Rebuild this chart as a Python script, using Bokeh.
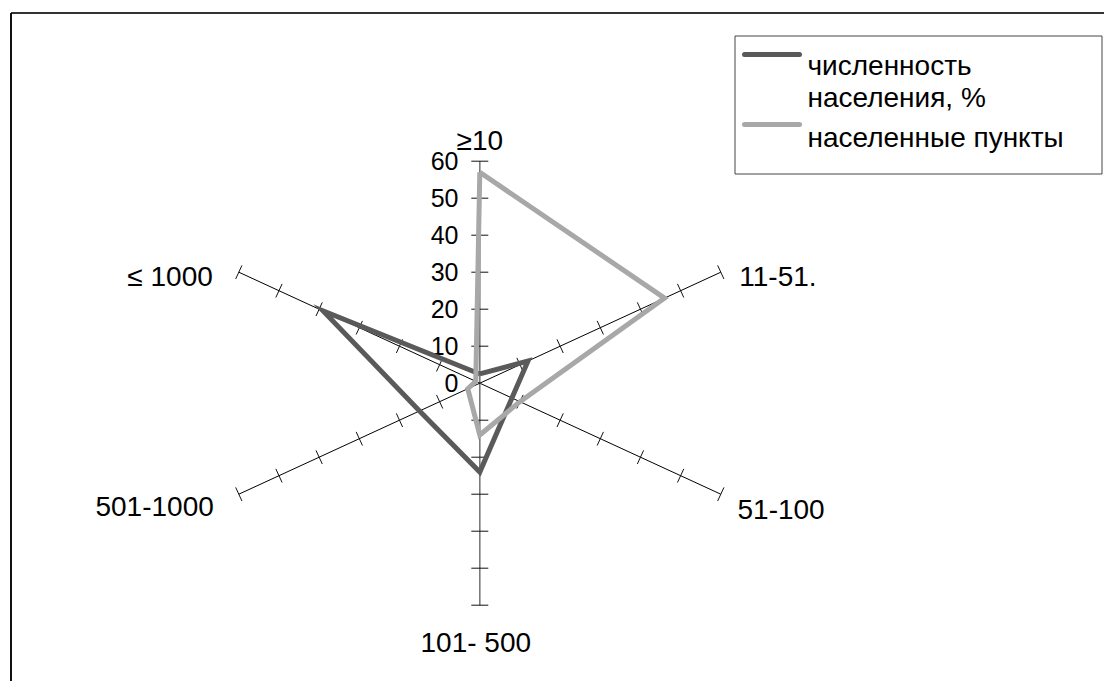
import math
from bokeh.plotting import figure
from bokeh.models import Range1d
from bokeh.core.properties import value
from bokeh.embed import file_html
from bokeh.resources import INLINE

# ---------------- data ----------------
categories = ["≥10", "11-51.", "51-100", "101- 500", "501-1000", "≤ 1000"]
population_pct = [2.5, 12, 8, 24, 15, 39]
settlements = [57, 46, 10, 14, 3, 1]
series_names = ["численность населения, %", "населенные пункты"]
legend_rows = [["численность", "населения, %"], ["населенные пункты"]]
tick_values = [0, 10, 20, 30, 40, 50, 60]
tick_labels = ["0", "10", "20", "30", "40", "50", "60"]
r_max = 60

# ---------------- geometry / style ----------------
FIG_W, FIG_H = 1104, 681
OFF = 0                       # picture origin offset
CX, CY = 479.3, 382.7         # centre of radar in picture pixels
PX_Y = 222.0 / r_max          # pixels per unit vertically
PX_X = 241.0 / (r_max * math.cos(math.radians(30)))  # pixels per unit horizontally (stretched)

FONT = value("Liberation Sans")
DARK = "#5a5a5a"
LIGHT = "#a8a8a8"


def dx(xp):
    return (xp - CX) / PX_X


def dy(yp):
    return (CY - yp) / PX_Y


p = figure(width=FIG_W, height=FIG_H,
           x_range=Range1d(dx(OFF), dx(OFF + FIG_W)),
           y_range=Range1d(dy(OFF + FIG_H), dy(OFF)),
           output_backend="svg", toolbar_location=None,
           x_axis_type=None, y_axis_type=None, min_border=0)
p.min_border_left = p.min_border_right = p.min_border_top = p.min_border_bottom = 0
p.outline_line_color = None
p.background_fill_color = "white"
p.border_fill_color = "white"

# outer chart-area border (top and left edges visible)
p.segment(x0=[dx(10.5), dx(10.5)], y0=[dy(12.5), dy(12.5)],
          x1=[dx(1130), dx(10.5)], y1=[dy(12.5), dy(720)],
          line_color=["#333333", "#111111"], line_width=2)

n = len(categories)
angles = [math.radians(90 - 360.0 / n * i) for i in range(n)]

# spokes
for i, a in enumerate(angles):
    vertical = abs(math.cos(a)) < 1e-6
    p.segment(x0=[0], y0=[0], x1=[r_max * math.cos(a)], y1=[r_max * math.sin(a)],
              line_color="#7a7a7a" if vertical else "#000000",
              line_width=1.6 if vertical else 1)

# tick marks perpendicular to spokes (in screen space)
tx0, ty0, tx1, ty1 = [], [], [], []
for a in angles:
    ux, uy = math.cos(a) * PX_X, -math.sin(a) * PX_Y
    L = math.hypot(ux, uy)
    ux, uy = ux / L, uy / L
    nx, ny = -uy, ux
    half = 8.5 if abs(math.cos(a)) < 1e-6 else 7.5
    for t in tick_values[1:]:
        cxp = t * math.cos(a)
        cyp = t * math.sin(a)
        ox, oy = nx * half / PX_X, -ny * half / PX_Y
        tx0.append(cxp - ox); ty0.append(cyp - oy)
        tx1.append(cxp + ox); ty1.append(cyp + oy)
p.segment(x0=tx0, y0=ty0, x1=tx1, y1=ty1, line_color="#111111", line_width=1)

# value axis labels
p.text(x=[dx(CX - 21.3)] * len(tick_values), y=tick_values, text=tick_labels,
       text_font=FONT, text_font_size="25px", text_color="#000000",
       text_align="right", text_baseline="middle")

# category labels (offsets in px from spoke end: right, down)
label_style = [(0, -20.5, "center"), (18.5, 4.5, "left"), (16.7, 15, "left"),
               (-4, 37.5, "center"), (-25, 12, "right"), (-26, 4.5, "right")]
for i, a in enumerate(angles):
    ex = CX + r_max * math.cos(a) * PX_X
    ey = CY - r_max * math.sin(a) * PX_Y
    ox, oy, al = label_style[i]
    p.text(x=[dx(ex + ox)], y=[dy(ey + oy)], text=[categories[i]],
           text_font=FONT, text_font_size="28px", text_color="#000000",
           text_align=al, text_baseline="alphabetic")

# series
def closed(vals):
    xs = [v * math.cos(a) for v, a in zip(vals, angles)]
    ys = [v * math.sin(a) for v, a in zip(vals, angles)]
    return xs + xs[:1], ys + ys[:1]

xs, ys = closed(population_pct)
p.line(xs, ys, line_color=DARK, line_width=5, line_join="miter")
xs, ys = closed(settlements)
p.line(xs, ys, line_color=LIGHT, line_width=5, line_join="miter")

# legend box
p.quad(left=[dx(734.5)], right=[dx(1101.5)], top=[dy(35.5)], bottom=[dy(173.5)],
       fill_color="white", line_color="#444444", line_width=1)
leg_line_y = [54, 124]
leg_colors = [DARK, LIGHT]
leg_baselines = [[65, 96.7], [136.7]]
for k in range(2):
    p.line([dx(744), dx(799)], [dy(leg_line_y[k])] * 2, line_color=leg_colors[k],
           line_width=5, line_cap="round")
    for j, row in enumerate(legend_rows[k]):
        p.text(x=[dx(807)], y=[dy(leg_baselines[k][j])], text=[row],
               text_font=FONT, text_font_size="28px", text_color="#000000",
               text_align="left", text_baseline="alphabetic")

open("out.html", "w").write(file_html(p, INLINE))
